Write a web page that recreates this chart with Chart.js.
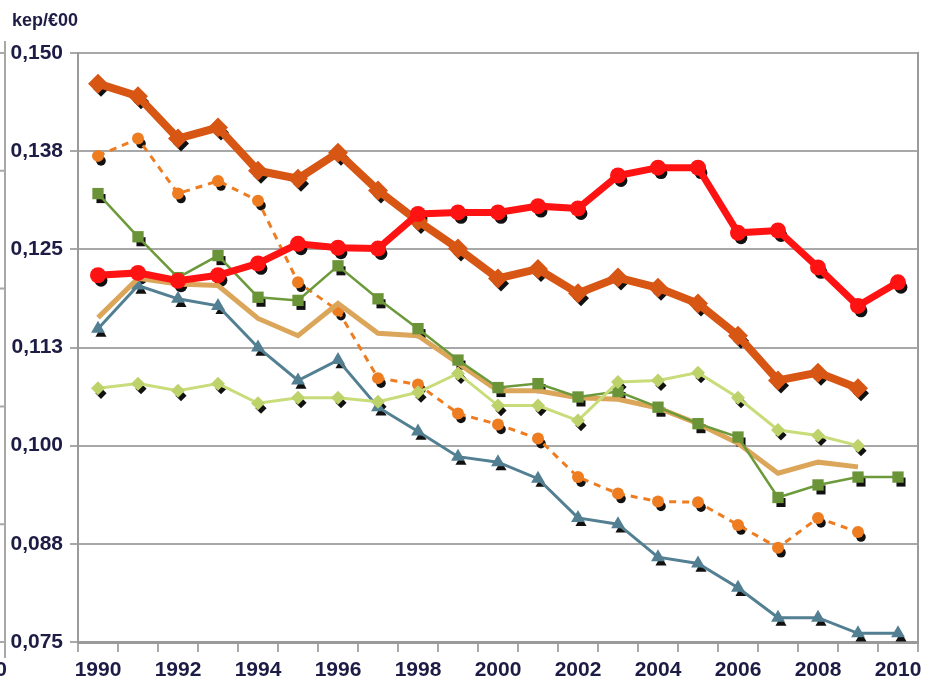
<!DOCTYPE html>
<html>
<head>
<meta charset="utf-8">
<script src="https://cdn.jsdelivr.net/npm/chart.js@4.4.1/dist/chart.umd.min.js"></script>
<style>
  html, body { margin: 0; padding: 0; background: #fff; }
  #wrap { width: 928px; height: 689px; position: relative; }
</style>
</head>
<body>
<div id="wrap"><canvas id="myChart" width="928" height="689"></canvas></div>
<script>
const years = ["1990","1991","1992","1993","1994","1995","1996","1997","1998","1999","2000",
  "2001","2002","2003","2004","2005","2006","2007","2008","2009","2010"];
const yTickLabels = ["0,075", "0,088", "0,100", "0,113", "0,125", "0,138", "0,150"];
const unitLabel = "kep/€00";

const redSeries = [0.1217, 0.1220, 0.1210, 0.1217, 0.1232, 0.1257, 0.1252, 0.1251, 0.1295, 0.1297,
  0.1297, 0.1305, 0.1302, 0.1344, 0.1354, 0.1354, 0.1271, 0.1274, 0.1227, 0.1178, 0.1208];
const darkOrangeSeries = [0.1461, 0.1445, 0.1391, 0.1405, 0.1350, 0.1340, 0.1373, 0.1325, 0.1286,
  0.1251, 0.1213, 0.1225, 0.1194, 0.1214, 0.1201, 0.1181, 0.1140, 0.1083, 0.1093, 0.1073, null];
const orangeDashedSeries = [0.1369, 0.1391, 0.1321, 0.1337, 0.1312, 0.1208, 0.1172, 0.1086, 0.1078,
  0.1041, 0.1027, 0.1009, 0.0960, 0.0939, 0.0929, 0.0928, 0.0899, 0.0870, 0.0908, 0.0890, null];
const greenSeries = [0.1321, 0.1266, 0.1214, 0.1242, 0.1189, 0.1185, 0.1229, 0.1187, 0.1149,
  0.1109, 0.1074, 0.1079, 0.1062, 0.1069, 0.1049, 0.1028, 0.1011, 0.0934, 0.0950, 0.0960, 0.0960];
const tanSeries = [0.1163, 0.1213, 0.1206, 0.1204, 0.1162, 0.1140, 0.1181, 0.1143, 0.1140,
  0.1105, 0.1070, 0.1070, 0.1061, 0.1059, 0.1048, 0.1028, 0.1003, 0.0965, 0.0979, 0.0973, null];
const blueSeries = [0.1149, 0.1204, 0.1187, 0.1178, 0.1125, 0.1083, 0.1109, 0.1049, 0.1018,
  0.0986, 0.0979, 0.0958, 0.0908, 0.0900, 0.0858, 0.0850, 0.0819, 0.0781, 0.0781, 0.0761, 0.0761];
const lightGreenSeries = [0.1073, 0.1079, 0.1070, 0.1079, 0.1054, 0.1061, 0.1061, 0.1056, 0.1068,
  0.1092, 0.1051, 0.1051, 0.1032, 0.1081, 0.1083, 0.1093, 0.1061, 0.1020, 0.1013, 0.1000, null];

const fontFamily = "'Liberation Sans Narrow', 'Arial Narrow', 'Liberation Sans', sans-serif";
const labelFont = { family: fontFamily, size: 21, weight: "bold" };
const textColor = "#1c1c44";
const gridColor = "#a8a8a8";

// black drop shadow under every marker, like the original
const markerShadow = {
  id: "markerShadow",
  beforeDatasetsDraw(chart) {
    const ctx = chart.ctx;
    ctx.save();
    ctx.fillStyle = "#111";
    ctx.strokeStyle = "#111";
    for (let i = chart.data.datasets.length - 1; i >= 0; i--) {
      const ds = chart.data.datasets[i];
      if (!ds.pointRadius) continue;
      const meta = chart.getDatasetMeta(i);
      meta.data.forEach((pt, j) => {
        if (ds.data[j] == null) return;
        Chart.helpers.drawPoint(ctx, {
          pointStyle: ds.pointStyle, radius: ds.pointRadius * 0.8, rotation: 0, borderWidth: 0
        }, pt.x + 3, pt.y + 5);
      });
    }
    ctx.restore();
  }
};

// unit label and the cut-off axis of the neighbouring chart on the left
const extras = {
  id: "extras",
  afterDraw(chart) {
    const ctx = chart.ctx;
    const area = chart.chartArea;
    ctx.save();
    ctx.fillStyle = textColor;
    ctx.font = "bold 18px " + fontFamily;
    ctx.textBaseline = "alphabetic";
    ctx.fillText(unitLabel, 12, 26);

    ctx.strokeStyle = gridColor;
    ctx.lineWidth = 2;
    ctx.beginPath();
    ctx.moveTo(5, area.top - 12);
    ctx.lineTo(5, area.bottom + 16);
    const step = (area.bottom - area.top) / 5;
    for (let k = 0; k <= 5; k++) {
      ctx.moveTo(0, area.top + k * step);
      ctx.lineTo(5, area.top + k * step);
    }
    ctx.stroke();
    ctx.font = "bold 21px " + fontFamily;
    ctx.textAlign = "right";
    ctx.fillText("0", 7, 676);
    ctx.restore();
  }
};

function series(data, color, width, style, radius, extra) {
  return Object.assign({
    data: data,
    borderColor: color,
    backgroundColor: color,
    borderWidth: width,
    pointStyle: style,
    pointRadius: radius,
    pointBorderWidth: 0,
    pointBackgroundColor: color,
    tension: 0,
    spanGaps: false
  }, extra || {});
}

new Chart(document.getElementById("myChart"), {
  type: "line",
  data: {
    labels: years,
    datasets: [
      series(redSeries, "#ff1212", 7, "circle", 8),
      series(darkOrangeSeries, "#d85614", 8, "rectRot", 10),
      series(lightGreenSeries, "#c9dc7a", 3, "rectRot", 7, { pointBackgroundColor: "#bdd26a" }),
      series(greenSeries, "#6c9a3a", 2.5, "rect", 8, { pointBackgroundColor: "#6b9438" }),
      series(tanSeries, "#dba65a", 5, false, 0),
      series(orangeDashedSeries, "#ee7d22", 3, "circle", 6, { borderDash: [7, 6] }),
      series(blueSeries, "#527f91", 3, "triangle", 8)
    ]
  },
  options: {
    responsive: false,
    animation: false,
    layout: { padding: { top: 53, right: 1, left: 0, bottom: 0 } },
    plugins: { legend: { display: false }, tooltip: { enabled: false } },
    scales: {
      x: {
        offset: true,
        grid: { offset: true, drawOnChartArea: false, drawTicks: true, tickLength: 10, color: gridColor, lineWidth: 2 },
        border: { color: "#9a9a9a", width: 3 },
        ticks: {
          autoSkip: false, maxRotation: 0, padding: 6, color: textColor, font: labelFont,
          callback: function (v, i) { return i % 2 === 0 ? years[i] : ""; }
        },
        afterFit: function (scale) { scale.height = 47; }
      },
      y: {
        min: 0.075,
        max: 0.150,
        grid: { color: gridColor, lineWidth: 2, tickLength: 8 },
        border: { color: "#9a9a9a", width: 2 },
        ticks: {
          stepSize: 0.0125, padding: 7, color: textColor, font: labelFont,
          callback: function (v, i) { return yTickLabels[i]; }
        },
        afterFit: function (scale) { scale.width = 78; }
      },
      y2: {
        position: "right",
        display: true,
        grid: { drawOnChartArea: false, drawTicks: false },
        border: { color: "#9a9a9a", width: 2 },
        ticks: { display: false },
        afterFit: function (scale) { scale.width = 0; }
      }
    }
  },
  plugins: [markerShadow, extras]
});
</script>
</body>
</html>
